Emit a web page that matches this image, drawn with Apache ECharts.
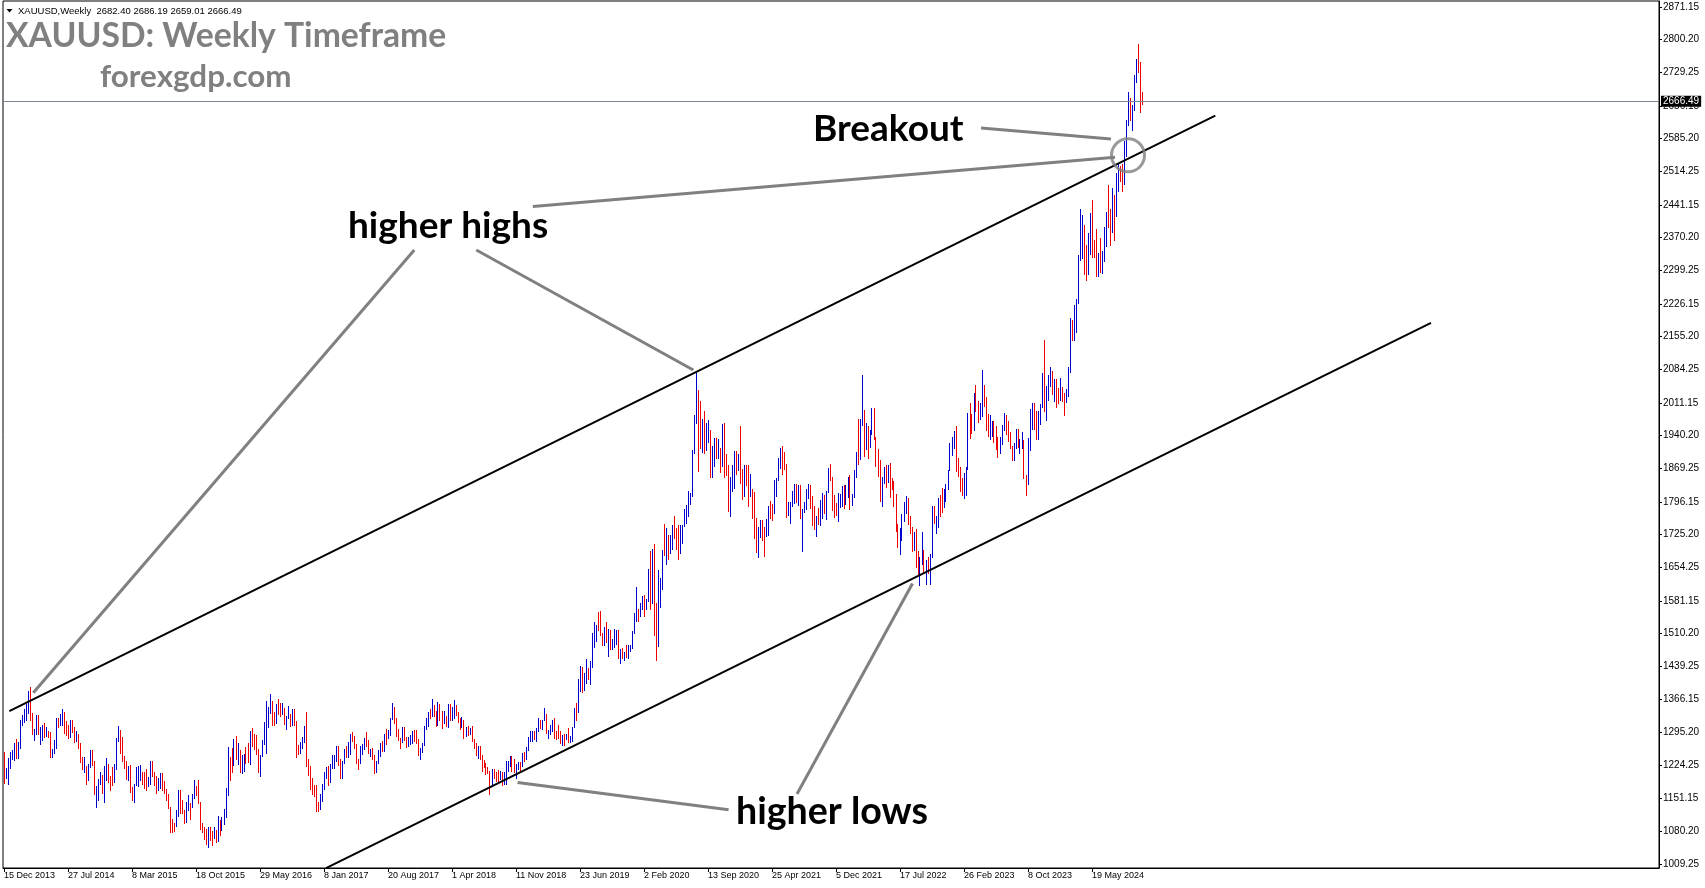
<!DOCTYPE html>
<html><head><meta charset="utf-8">
<script src="https://cdn.jsdelivr.net/npm/echarts@6/dist/echarts.min.js"></script>
<style>html,body{margin:0;padding:0;background:#fff}#c{width:1705px;height:888px}</style>
</head><body><div id="c"></div>
<script>
// ---------- tick labels ----------
const xTickLabels = ["15 Dec 2013","27 Jul 2014","8 Mar 2015","18 Oct 2015","29 May 2016","8 Jan 2017","20 Aug 2017","1 Apr 2018","11 Nov 2018","23 Jun 2019","2 Feb 2020","13 Sep 2020","25 Apr 2021","5 Dec 2021","17 Jul 2022","26 Feb 2023","8 Oct 2023","19 May 2024"];
const yTicks = [1009.25,1080.20,1151.15,1224.25,1295.20,1366.15,1439.25,1510.20,1581.15,1654.25,1725.20,1796.15,1869.25,1940.20,2011.15,2084.25,2155.20,2226.15,2299.25,2370.20,2441.15,2514.25,2585.20,2656.15,2729.25,2800.20,2871.15];

// ---------- weekly XAUUSD (week starting Sunday 15 Dec 2013 ... 10 Nov 2024) ----------
const high2013 = [1252,1217,1238];
const low2013  = [1185,1195,1182];
const close2013= [1203,1213,1238];
const high2014 = [1251,1256,1270,1280,1274,1320,1332,1345,1355,1385,1392,1337,1302,1331,1331,1305,1310,1315,1305,1298,1294,1257,1277,1325,1326,1333,1345,1339,1318,1311,1322,1320,1305,1297,1290,1271,1240,1240,1222,1226,1255,1255,1233,1178,1192,1207,1202,1221,1238,1225,1200,1219];
const low2014  = [1217,1236,1235,1238,1238,1260,1310,1316,1322,1336,1321,1290,1277,1290,1290,1268,1277,1285,1286,1285,1240,1240,1250,1260,1305,1310,1310,1292,1288,1281,1284,1295,1273,1275,1261,1229,1214,1207,1183,1190,1219,1224,1160,1131,1147,1181,1163,1142,1190,1187,1170,1180];
const close2014= [1247,1254,1264,1240,1262,1318,1323,1326,1338,1379,1334,1294,1303,1318,1293,1300,1302,1288,1293,1292,1245,1253,1274,1316,1316,1320,1337,1310,1305,1294,1310,1305,1280,1287,1268,1231,1216,1218,1192,1222,1238,1231,1171,1177,1185,1197,1167,1191,1222,1195,1195,1187];
const high2015 = [1225,1282,1307,1300,1284,1243,1233,1221,1223,1175,1183,1219,1220,1224,1209,1208,1215,1198,1232,1233,1207,1200,1194,1205,1205,1189,1172,1160,1131,1105,1098,1126,1170,1168,1147,1126,1142,1157,1140,1161,1191,1178,1191,1143,1097,1089,1085,1088,1088,1080,1088,1081];
const low2015  = [1186,1214,1275,1250,1232,1216,1192,1190,1164,1147,1142,1180,1178,1190,1183,1173,1170,1177,1182,1200,1180,1162,1170,1173,1168,1163,1147,1130,1077,1077,1080,1090,1112,1118,1118,1098,1099,1125,1107,1131,1152,1158,1140,1085,1077,1062,1052,1046,1060,1049,1065,1057];
const close2015= [1216,1277,1293,1279,1234,1228,1204,1213,1166,1152,1182,1199,1201,1206,1203,1178,1178,1189,1225,1205,1190,1168,1180,1201,1173,1167,1157,1131,1098,1095,1094,1113,1160,1134,1121,1103,1138,1145,1137,1156,1177,1163,1141,1088,1081,1076,1057,1085,1075,1065,1076,1060];
const high2016 = [1112,1104,1111,1127,1174,1263,1240,1261,1280,1287,1272,1255,1244,1248,1262,1270,1298,1304,1290,1289,1258,1244,1277,1316,1362,1350,1377,1362,1338,1356,1367,1357,1358,1347,1330,1352,1333,1344,1345,1318,1266,1274,1284,1308,1338,1236,1221,1195,1180,1180,1142,1160];
const low2016  = [1058,1071,1081,1096,1111,1157,1191,1208,1224,1237,1225,1208,1206,1210,1227,1229,1226,1265,1258,1247,1207,1199,1242,1269,1250,1306,1336,1310,1310,1314,1334,1330,1335,1312,1302,1325,1308,1310,1311,1241,1248,1250,1261,1273,1220,1202,1171,1160,1155,1123,1124,1127];
const close2016= [1097,1090,1097,1117,1158,1239,1230,1221,1272,1249,1254,1218,1220,1240,1234,1232,1293,1289,1272,1253,1212,1243,1275,1297,1321,1340,1366,1327,1323,1350,1336,1336,1341,1321,1326,1328,1310,1338,1316,1257,1251,1266,1276,1305,1225,1208,1178,1177,1160,1135,1132,1152];
const high2017 = [1182,1207,1219,1220,1226,1244,1245,1264,1264,1236,1233,1259,1264,1273,1290,1296,1286,1268,1236,1264,1269,1281,1296,1278,1258,1261,1244,1233,1256,1270,1275,1291,1301,1300,1326,1358,1349,1326,1302,1282,1306,1306,1284,1283,1289,1297,1300,1299,1279,1260,1270,1309];
const low2017  = [1146,1172,1195,1180,1186,1216,1216,1232,1223,1195,1196,1228,1240,1240,1248,1275,1260,1227,1214,1228,1247,1258,1265,1250,1242,1236,1205,1207,1228,1243,1254,1253,1268,1281,1288,1323,1315,1287,1277,1261,1273,1278,1262,1265,1268,1270,1276,1271,1244,1236,1251,1266];
const close2017= [1173,1197,1205,1190,1220,1234,1239,1257,1234,1202,1229,1249,1248,1254,1288,1284,1268,1228,1228,1254,1267,1280,1266,1254,1256,1242,1212,1228,1254,1268,1258,1289,1284,1292,1325,1346,1320,1297,1280,1275,1304,1280,1266,1269,1274,1293,1288,1280,1248,1256,1268,1303];
const high2018 = [1326,1338,1344,1366,1353,1341,1361,1356,1341,1340,1329,1356,1356,1349,1365,1353,1339,1326,1327,1322,1306,1308,1303,1309,1280,1272,1265,1265,1245,1235,1228,1219,1211,1214,1215,1207,1212,1211,1207,1207,1233,1233,1243,1243,1237,1225,1230,1230,1250,1251,1263,1283];
const low2018  = [1302,1307,1325,1330,1330,1307,1310,1322,1303,1315,1307,1306,1322,1321,1326,1331,1316,1302,1305,1282,1286,1289,1290,1275,1261,1245,1238,1237,1211,1218,1204,1206,1160,1183,1195,1189,1189,1192,1180,1182,1182,1210,1221,1211,1207,1196,1215,1212,1221,1233,1236,1256];
const close2018= [1320,1338,1332,1349,1333,1315,1347,1329,1322,1324,1313,1346,1325,1332,1345,1336,1322,1314,1320,1291,1302,1294,1298,1278,1270,1252,1255,1241,1231,1223,1214,1211,1184,1206,1201,1196,1194,1199,1192,1203,1222,1226,1235,1233,1209,1222,1223,1222,1248,1238,1258,1281];
const high2019 = [1298,1297,1298,1303,1326,1320,1322,1347,1335,1300,1311,1321,1325,1298,1310,1297,1288,1290,1290,1304,1287,1306,1348,1358,1411,1439,1437,1424,1453,1434,1449,1510,1535,1528,1555,1557,1511,1523,1535,1519,1517,1498,1518,1516,1517,1475,1478,1468,1485,1485,1485,1514,1553];
const low2019  = [1275,1276,1279,1276,1297,1303,1302,1320,1292,1281,1290,1298,1281,1280,1281,1270,1266,1266,1279,1274,1273,1276,1306,1322,1338,1384,1381,1386,1401,1411,1400,1436,1480,1492,1517,1506,1484,1485,1490,1459,1475,1476,1480,1486,1456,1445,1456,1452,1458,1456,1470,1477,1510];
const close2019= [1285,1288,1282,1298,1317,1314,1322,1329,1294,1298,1302,1313,1292,1291,1290,1275,1286,1280,1286,1277,1284,1305,1341,1341,1399,1409,1400,1416,1426,1419,1441,1497,1513,1527,1520,1507,1488,1517,1498,1505,1489,1490,1505,1514,1459,1468,1462,1464,1460,1476,1479,1511,1552];
const high2020 = [1611,1563,1575,1591,1592,1584,1649,1689,1692,1703,1575,1646,1630,1690,1747,1739,1722,1722,1745,1765,1739,1745,1745,1745,1779,1789,1818,1815,1907,1984,2075,2039,2015,1976,1992,1966,1973,1951,1917,1933,1933,1932,1911,1965,1966,1898,1875,1848,1875,1906,1906,1900];
const low2020  = [1537,1536,1547,1563,1547,1562,1580,1563,1576,1505,1451,1482,1567,1606,1680,1659,1670,1683,1693,1716,1693,1670,1684,1705,1742,1748,1764,1791,1807,1901,1966,1863,1911,1903,1902,1907,1926,1848,1848,1873,1890,1891,1860,1872,1850,1854,1775,1764,1819,1826,1855,1864];
const close2020= [1562,1557,1572,1589,1570,1584,1643,1585,1674,1530,1498,1617,1620,1683,1683,1726,1700,1702,1744,1735,1730,1685,1730,1743,1771,1775,1798,1810,1902,1975,2035,1944,1940,1964,1933,1940,1950,1861,1900,1930,1899,1902,1879,1952,1888,1872,1788,1839,1840,1881,1877,1898];
const high2021 = [1959,1866,1875,1875,1875,1855,1823,1816,1760,1740,1755,1755,1740,1758,1785,1797,1790,1843,1846,1890,1913,1916,1903,1878,1795,1795,1818,1834,1833,1832,1832,1780,1795,1823,1834,1832,1808,1787,1764,1781,1800,1814,1810,1818,1868,1877,1849,1809,1793,1815,1813,1830];
const low2021  = [1836,1802,1808,1832,1785,1807,1760,1717,1687,1676,1719,1712,1677,1721,1723,1760,1756,1770,1808,1842,1869,1855,1866,1761,1767,1750,1785,1792,1794,1789,1759,1688,1773,1779,1804,1781,1745,1737,1721,1746,1745,1760,1771,1758,1816,1843,1778,1762,1766,1753,1784,1787];
const close2021= [1849,1828,1855,1848,1814,1824,1784,1734,1700,1726,1745,1732,1729,1744,1777,1777,1769,1831,1844,1881,1905,1891,1877,1764,1781,1787,1808,1812,1802,1814,1763,1780,1781,1817,1828,1788,1754,1751,1761,1757,1768,1793,1783,1818,1864,1846,1792,1783,1782,1798,1809,1829];
const high2022 = [1831,1831,1848,1853,1812,1865,1903,1974,1974,2070,1995,1966,1960,1950,1998,1998,1936,1910,1885,1849,1870,1874,1875,1879,1847,1841,1813,1746,1739,1768,1795,1807,1803,1765,1740,1730,1735,1688,1676,1729,1690,1668,1676,1682,1786,1787,1765,1804,1810,1824,1823,1833];
const low2022  = [1782,1790,1805,1780,1788,1806,1850,1878,1889,1963,1895,1910,1890,1915,1942,1931,1872,1851,1797,1786,1836,1828,1837,1805,1822,1785,1732,1697,1681,1711,1754,1771,1746,1727,1688,1691,1654,1639,1615,1659,1640,1617,1640,1616,1675,1748,1727,1740,1765,1773,1784,1797];
const close2022= [1797,1817,1835,1791,1807,1859,1898,1889,1966,1988,1921,1958,1925,1945,1974,1931,1897,1883,1811,1846,1853,1851,1871,1840,1827,1811,1742,1708,1727,1766,1775,1802,1747,1737,1712,1717,1675,1644,1661,1695,1644,1657,1645,1681,1771,1751,1754,1797,1797,1792,1798,1824];
const high2023 = [1865,1923,1935,1949,1960,1890,1870,1847,1858,1870,1989,2009,1985,2032,2048,2015,2009,2081,2048,2022,1985,1983,1971,1971,1959,1936,1935,1963,1987,1983,1970,1946,1916,1923,1953,1953,1932,1947,1930,1854,1933,1997,2009,2009,1993,1993,2007,2075,2146,2047,2071,2088];
const low2023  = [1823,1864,1896,1911,1861,1852,1819,1809,1804,1810,1867,1934,1945,1950,1992,1969,1974,1982,2003,1952,1937,1932,1938,1925,1910,1893,1902,1920,1950,1942,1928,1911,1885,1885,1913,1915,1901,1913,1846,1810,1834,1908,1953,1953,1931,1932,1965,2001,1993,1973,2016,2047];
const close2023= [1865,1920,1926,1929,1865,1865,1842,1811,1855,1868,1989,1978,1969,2007,2004,1983,1990,2016,2011,1977,1946,1948,1961,1958,1921,1919,1925,1955,1962,1959,1943,1913,1889,1915,1940,1919,1924,1925,1848,1833,1932,1981,2006,1993,1940,1981,2002,2072,2004,2019,2053,2062];
const high2024 = [2079,2062,2062,2042,2065,2044,2031,2041,2088,2195,2189,2223,2236,2331,2431,2418,2396,2354,2378,2422,2450,2364,2388,2336,2368,2340,2392,2424,2484,2432,2477,2461,2509,2531,2525,2529,2580,2625,2685,2673,2658,2722,2758,2790,2750,2686.19];
const low2024  = [2030,2013,2002,2010,2016,2015,1984,2011,2024,2078,2146,2146,2164,2228,2320,2324,2291,2277,2291,2333,2326,2326,2286,2286,2295,2293,2319,2350,2393,2353,2381,2364,2415,2470,2491,2471,2485,2546,2614,2624,2603,2646,2708,2729,2643,2659.01];
const close2024= [2045,2049,2029,2018,2039,2024,2013,2036,2083,2179,2155,2165,2233,2329,2344,2392,2337,2301,2360,2415,2334,2327,2293,2333,2322,2326,2392,2411,2400,2387,2442,2431,2507,2512,2503,2497,2578,2622,2658,2653,2657,2721,2747,2736,2684,2666.49];
const firstOpen = 1236;
const currentPrice = 2666.49;

// channel lines and pointer lines in data coordinates: [weekIndex, price]
const channelLines = [
  [[2.65, 1341.6], [605.65, 2635.0]],
  [[161, 1000.5], [713.5, 2185.1]]
];
const pointerLines = [
  [[205.15, 2343.2], [14.65, 1381.4]],
  [[236.15, 2343.2], [344.65, 2082.5]],
  [[264.4, 2437.7], [555.5, 2544.6]],
  [[488.5, 2608.3], [553.5, 2584.4]],
  [[362.3, 1127.0], [256.8, 1186.1]],
  [[396.5, 1161.3], [454.25, 1618.6]]
];
const breakoutPoint = [562, 2548.9];

// ---------- build ----------
const high = [].concat(high2013,high2014,high2015,high2016,high2017,high2018,high2019,high2020,high2021,high2022,high2023,high2024);
const low = [].concat(low2013,low2014,low2015,low2016,low2017,low2018,low2019,low2020,low2021,low2022,low2023,low2024);
const close = [].concat(close2013,close2014,close2015,close2016,close2017,close2018,close2019,close2020,close2021,close2022,close2023,close2024);
const SLOTS = 828;
const categories = Array.from({length: SLOTS}, (_, i) => String(i));
const bars = close.map((c, i) => [i, i ? close[i - 1] : firstOpen, c, low[i], high[i]]);

const BLUE = '#0000CD', RED = '#EE0000', GRAY = '#808080';
const isTick = (idx) => idx % 32 === 0 && idx / 32 < xTickLabels.length;

const series = [{
  type: 'custom', xAxisIndex: 0, yAxisIndex: 0, data: bars, silent: true,
  encode: {x: 0, y: [3, 4]},
  renderItem: (params, api) => {
    const i = api.value(0);
    const top = api.coord([i, api.value(4)]);
    const bot = api.coord([i, api.value(3)]);
    const up = api.value(2) > api.value(1);
    const y1 = Math.floor(top[1]), y2 = Math.ceil(bot[1]);
    return {type: 'rect', shape: {x: Math.floor(top[0]), y: y1, width: 1, height: Math.max(1, y2 - y1)},
            style: {fill: up ? BLUE : RED}};
  },
  markLine: {
    symbol: 'none', silent: true, animation: false,
    data: [{yAxis: currentPrice}],
    lineStyle: {color: '#7A8696', width: 1, type: 'solid'},
    label: {position: 'end', formatter: currentPrice.toFixed(2), backgroundColor: '#000', color: '#fff',
            padding: [1, 2, 0, 2], fontSize: 10, fontFamily: 'Liberation Sans', distance: 2}
  }
}];
channelLines.forEach(seg => series.push({
  type: 'line', xAxisIndex: 1, yAxisIndex: 0, data: seg, symbol: 'none', silent: true, z: 3,
  lineStyle: {color: '#000', width: 2}
}));
pointerLines.forEach(seg => series.push({
  type: 'line', xAxisIndex: 1, yAxisIndex: 0, data: seg, symbol: 'none', silent: true, z: 4,
  lineStyle: {color: GRAY, width: 3}
}));
series.push({
  type: 'scatter', xAxisIndex: 1, yAxisIndex: 0, data: [breakoutPoint], symbol: 'circle', symbolSize: 33,
  silent: true, z: 5, itemStyle: {color: 'rgba(0,0,0,0)', borderColor: GRAY, borderWidth: 3}
});

const chart = echarts.init(document.getElementById('c'), null, {renderer: 'canvas'});
chart.setOption({
  animation: false,
  backgroundColor: '#fff',
  grid: {left: 3, right: 46, top: 1, bottom: 20, show: true, borderColor: '#000', borderWidth: 1,
         containLabel: false, outerBoundsMode: 'none'},
  xAxis: [{
    type: 'category', data: categories, boundaryGap: true,
    axisLine: {show: true, onZero: false, lineStyle: {color: '#000', width: 1}},
    axisTick: {show: true, interval: isTick, alignWithLabel: true, length: 4, lineStyle: {color: '#000'}},
    axisLabel: {interval: isTick, formatter: (v) => xTickLabels[Number(v) / 32], align: 'left', margin: 3,
                color: '#000', fontFamily: 'Liberation Sans', fontSize: 9, hideOverlap: false},
    splitLine: {show: false}
  }, {
    type: 'value', min: -0.5, max: SLOTS - 0.5, show: false
  }],
  yAxis: [{
    type: 'value', position: 'right', min: 1000.55, max: 2884.19, scale: true,
    axisLine: {show: true, onZero: false, lineStyle: {color: '#000', width: 1}},
    axisTick: {show: true, customValues: yTicks, length: 3, lineStyle: {color: '#000'}},
    axisLabel: {customValues: yTicks, formatter: (v) => v.toFixed(2), margin: 4, color: '#000',
                fontFamily: 'Liberation Sans', fontSize: 10},
    splitLine: {show: false}
  }],
  graphic: [
    {type: 'polygon', shape: {points: [[6.5, 9], [12.5, 9], [9.5, 12.5]]}, style: {fill: '#000'}, silent: true},
    {type: 'text', silent: true, style: {x: 18, y: 11, text: 'XAUUSD,Weekly  2682.40 2686.19 2659.01 2666.49',
      font: '9.5px "Liberation Sans"', fill: '#000', verticalAlign: 'middle'}},
    {type: 'text', silent: true, style: {x: 6, y: 36, text: 'XAUUSD: Weekly Timeframe',
      font: 'bold 33.7px Lato', fill: GRAY, verticalAlign: 'middle'}},
    {type: 'text', silent: true, style: {x: 100, y: 77, text: 'forexgdp.com',
      font: 'bold 31.4px Lato', fill: GRAY, verticalAlign: 'middle'}},
    {type: 'text', silent: true, style: {x: 813, y: 129, text: 'Breakout',
      font: 'bold 37px Lato', fill: '#000', verticalAlign: 'middle'}},
    {type: 'text', silent: true, style: {x: 348, y: 226, text: 'higher highs',
      font: 'bold 37px Lato', fill: '#000', verticalAlign: 'middle'}},
    {type: 'text', silent: true, style: {x: 736, y: 812, text: 'higher lows',
      font: 'bold 37.6px Lato', fill: '#000', verticalAlign: 'middle'}}
  ],
  series: series
});
</script>
</body></html>
